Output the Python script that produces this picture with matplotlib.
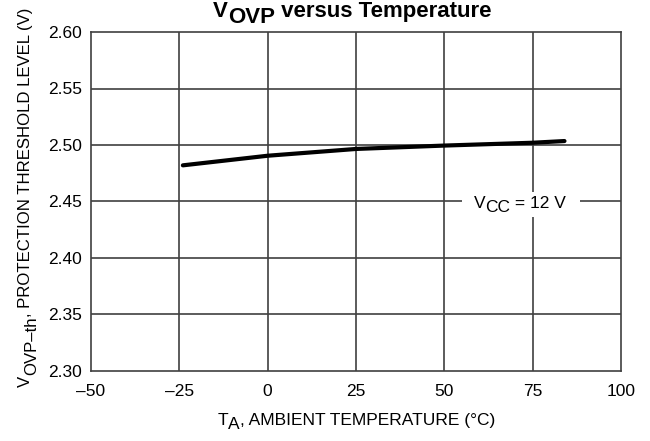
import matplotlib
matplotlib.use("Agg")
import matplotlib.pyplot as plt
from matplotlib import font_manager
from matplotlib.transforms import IdentityTransform
from matplotlib.patches import Rectangle

# ---------------- data ----------------
temps = [-24, 0, 25, 50, 75, 84]
vovp = [2.482, 2.4905, 2.4965, 2.4995, 2.502, 2.5035]
xticks = [-50, -25, 0, 25, 50, 75, 100]
yticks = [2.30, 2.35, 2.40, 2.45, 2.50, 2.55, 2.60]
title_parts = ["V", "OVP", " versus Temperature"]
xlabel_parts = ["T", "A", ", AMBIENT TEMPERATURE (\u00b0C)"]
ylabel_parts = ["V", "OVP\u2013th", ", PROTECTION THRESHOLD LEVEL (V)"]
note_parts = ["V", "CC", " = 12 V"]
note_pos = (71.4, 2.45)

names = {f.name for f in font_manager.fontManager.ttflist}
if 'Liberation Sans Narrow' in names:
    NARROW = ['Liberation Sans Narrow', 'DejaVu Sans']
    NS = 14.5
else:
    NARROW = ['Liberation Sans', 'DejaVu Sans']
    NS = 12.5
REG = ['Liberation Sans', 'DejaVu Sans']
plt.rcParams['font.family'] = NARROW

W, H = 650, 441
fig = plt.figure(figsize=(W / 100, H / 100), dpi=100)
ax = fig.add_axes([91 / W, 1 - 371 / H, 530 / W, 339 / H])
GRID = '#404040'

ax.set_xlim(-50, 100)
ax.set_ylim(2.30, 2.60)
ax.set_xticks(xticks)
ax.set_xticklabels([str(t).replace('-', '\u2013') for t in xticks])
ax.set_yticks(yticks)
ax.set_yticklabels([f"{t:.2f}" for t in yticks])
ax.tick_params(axis='both', length=0, labelsize=NS)
ax.tick_params(axis='x', pad=9)
ax.tick_params(axis='y', pad=6.5)
for x in xticks[1:-1]:
    ax.axvline(x, color=GRID, lw=1.2, zorder=1)
for y in yticks[1:-1]:
    ax.axhline(y, color=GRID, lw=1.2, zorder=1)
for s in ax.spines.values():
    s.set_linewidth(1.2)
    s.set_color(GRID)

ax.plot(temps, vovp, color='black', lw=3.0, solid_capstyle='round', zorder=3)

renderer = fig.canvas.get_renderer()


def text_width(s, family, size, weight):
    from matplotlib.font_manager import FontProperties
    fp = FontProperties(family=family, size=size, weight=weight)
    w1, _, _ = renderer.get_text_width_height_descent("|" + s + "|", fp, False)
    w0, _, _ = renderer.get_text_width_height_descent("||", fp, False)
    return w1 - w0


def rich(cx, cy, parts, offsets, family, size, weight='normal', vertical=False, zorder=5):
    """Draw parts side by side; cx, cy = centre along the line, baseline (display px)."""
    widths = [text_width(p, family, size, weight) for p in parts]
    total = sum(widths)
    pos = -total / 2
    arts = []
    for p, w, off in zip(parts, widths, offsets):
        if vertical:
            x, y, rot = cx + off, cy + pos, 90
        else:
            x, y, rot = cx + pos, cy - off, 0
        t = fig.text(x, y, p, transform=IdentityTransform(), family=family, size=size,
                     weight=weight, rotation=rot, rotation_mode='anchor',
                     ha='left', va='baseline', zorder=zorder)
        arts.append(t)
        pos += w
    return arts, total


# title
rich(352, H - 17, title_parts, [0, 6, 0], REG, 16, weight='bold')
# x label
rich(356, H - 425, xlabel_parts, [0, 4, 0], NARROW, NS)
# y label (rotated, subscript shifted to the right)
rich(30, H - 197, ylabel_parts, [0, 6, 0], NARROW, NS - 0.4, vertical=True)

# annotation on the 2.45 line with white box
px, py = ax.transData.transform(note_pos)
arts, tw = rich(px, py - 6.5, note_parts, [0, 4, 0], NARROW, NS, zorder=6)
box = Rectangle((px - tw / 2 - 11.5, py - 16), tw + 25, 25, transform=IdentityTransform(),
                facecolor='white', edgecolor='none', zorder=4)
fig.add_artist(box)

fig.savefig("out.png", dpi=100)
